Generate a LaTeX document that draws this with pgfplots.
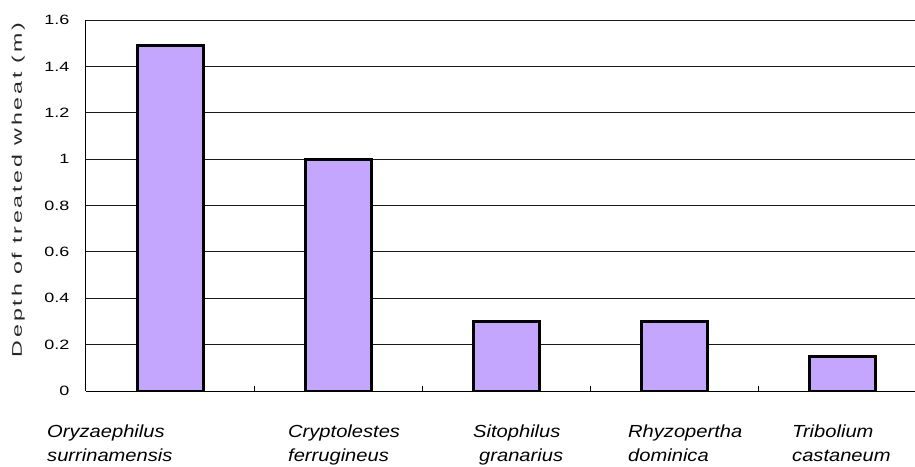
\documentclass[border=0pt]{standalone}
\usepackage{fontspec}
\setmainfont{Liberation Sans}
\newfontfamily\ylabfont[LetterSpace=12]{Liberation Sans}
\usepackage{pgfplots}
\pgfplotsset{compat=1.18}
\definecolor{barfill}{RGB}{196,166,255}
\newcommand{\cat}[1]{\scalebox{1.15}[1]{#1}}

\begin{document}
\begin{tikzpicture}
\begin{axis}[
  scale only axis,
  width=829pt, height=371pt,
  xmin=-0.5, xmax=4.4345,
  ymin=0, ymax=1.6,
  axis x line=bottom, axis y line=left,
  axis line style={-, black, line width=1pt},
  ybar, bar width=66pt,
  /pgf/number format/assume math mode=true,
  ytick={0,0.2,0.4,0.6,0.8,1,1.2,1.4,1.6},
  yticklabel={\scalebox{1.33}[1]{\pgfmathprintnumber{\tick}}},
  yticklabel style={font=\fontsize{13.5}{13.5}\selectfont, anchor=east, inner sep=0pt, xshift=-14pt},
  ytick style={draw=none},
  ymajorgrids,
  major grid style={black!90, line width=0.9pt},
  xtick={0.5,1.5,2.5,3.5},
  xticklabel=\empty,
  xtick align=inside,
  major tick length=5pt,
  xtick style={black, line width=0.8pt},
]
\addplot[fill=barfill, draw=black, line width=3pt]
  coordinates {(0,1.49) (1,1.0) (2,0.3) (3,0.3) (4,0.15)};
\end{axis}

\begin{scope}[every node/.style={anchor=base west, inner sep=0pt, font=\itshape\fontsize{17.5}{17.5}\selectfont}]
\node at (-39pt,-46pt) {\cat{Oryzaephilus}};
\node at (-39pt,-70pt) {\cat{surrinamensis}};
\node at (202pt,-46pt) {\cat{Cryptolestes}};
\node at (202pt,-70pt) {\cat{ferrugineus}};
\node at (387pt,-46pt) {\cat{Sitophilus}};
\node at (393pt,-70pt) {\cat{granarius}};
\node at (542pt,-46pt) {\cat{Rhyzopertha}};
\node at (542pt,-70pt) {\cat{dominica}};
\node at (706pt,-46pt) {\cat{Tribolium}};
\node at (706pt,-70pt) {\cat{castaneum}};
\end{scope}

\node[rotate=90, anchor=base, inner sep=0pt, text=black!85] at (-64pt,201pt)
  {\resizebox{334pt}{\height}{\ylabfont\fontsize{14pt}{14pt}\selectfont Depth of treated wheat (m)}};

\pgfresetboundingbox
\path[use as bounding box] (-86pt,-75pt) rectangle (829pt,391pt);
\end{tikzpicture}
\end{document}
